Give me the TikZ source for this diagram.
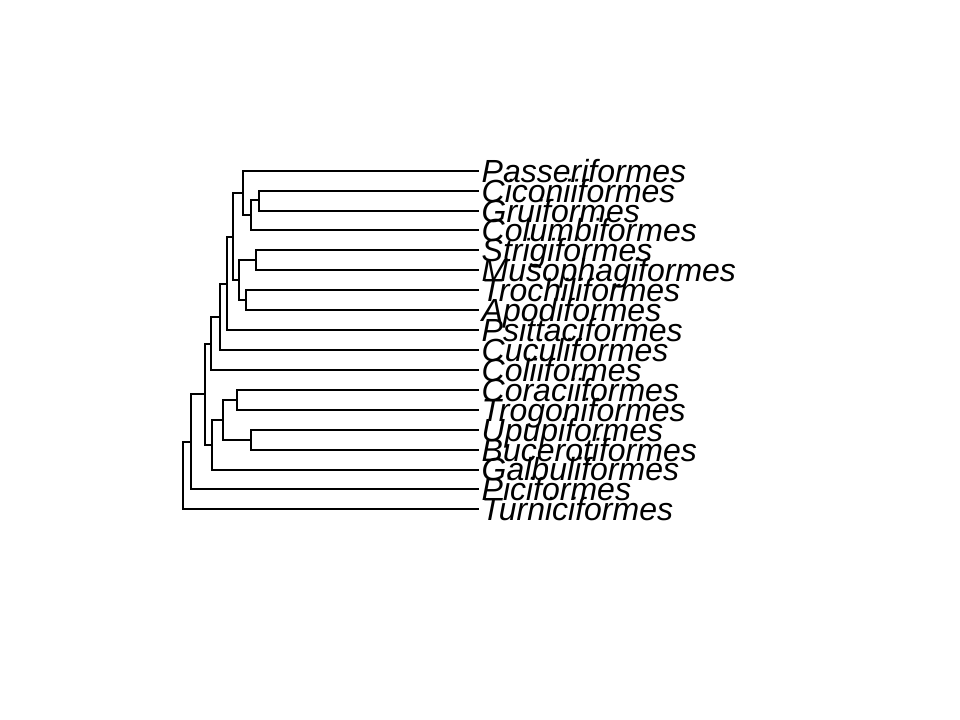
\documentclass[tikz,border=0pt]{standalone}
\usepackage{fontspec}
\setmainfont{Liberation Sans}
\begin{document}
\begin{tikzpicture}[x=0.75pt, y=-0.75pt, line width=1.5pt, line join=miter, line cap=rect,
	lab/.style={anchor=base west, inner sep=0pt, font=\fontsize{24}{24}\selectfont\itshape}]
	\useasboundingbox (0,0) rectangle (960,720);
	% tips
	\foreach \name [count=\i] in {Passeriformes,Ciconiiformes,Gruiformes,Columbiformes,Strigiformes,Musophagiformes,Trochiliformes,Apodiformes,Psittaciformes,Cuculiformes,Coliiformes,Coraciiformes,Trogoniformes,Upupiformes,Bucerotiformes,Galbuliformes,Piciformes,Turniciformes}
	{
		\coordinate (t\i) at (478,{150.8+19.92*\i});
		\node[lab] (l\i) at ([xshift=2pt, yshift=-8.6pt]t\i) {\name};
	}
	% internal nodes
	\coordinate (cg) at (259,200.5);
	\coordinate (cgc) at (251,215.4);
	\coordinate (pc) at (243,193);
	\coordinate (sm) at (256,260.3);
	\coordinate (ta) at (246,300.2);
	\coordinate (smta) at (239,280.2);
	\coordinate (na) at (233,236.6);
	\coordinate (nb) at (226.7,283.6);
	\coordinate (nc) at (220,317);
	\coordinate (nd) at (210.7,343.6);
	\coordinate (ct) at (236.7,400);
	\coordinate (ub) at (251,439.8);
	\coordinate (ne) at (222.7,419.9);
	\coordinate (nf) at (211.7,444.8);
	\coordinate (ng) at (204.7,394.2);
	\coordinate (nh) at (190.7,442.3);
	\coordinate (root) at (183.3,475.8);
	% branches
	\foreach \p/\c in {cg/t2,cg/t3,cgc/cg,cgc/t4,pc/t1,pc/cgc,sm/t5,sm/t6,ta/t7,ta/t8,smta/sm,smta/ta,
		na/pc,na/smta,nb/na,nb/t9,nc/nb,nc/t10,nd/nc,nd/t11,ct/t12,ct/t13,ub/t14,ub/t15,ne/ct,ne/ub,
		nf/ne,nf/t16,ng/nd,ng/nf,nh/ng,nh/t17,root/nh,root/t18}
	\draw (\p) |- (\c);
\end{tikzpicture}
\end{document}
